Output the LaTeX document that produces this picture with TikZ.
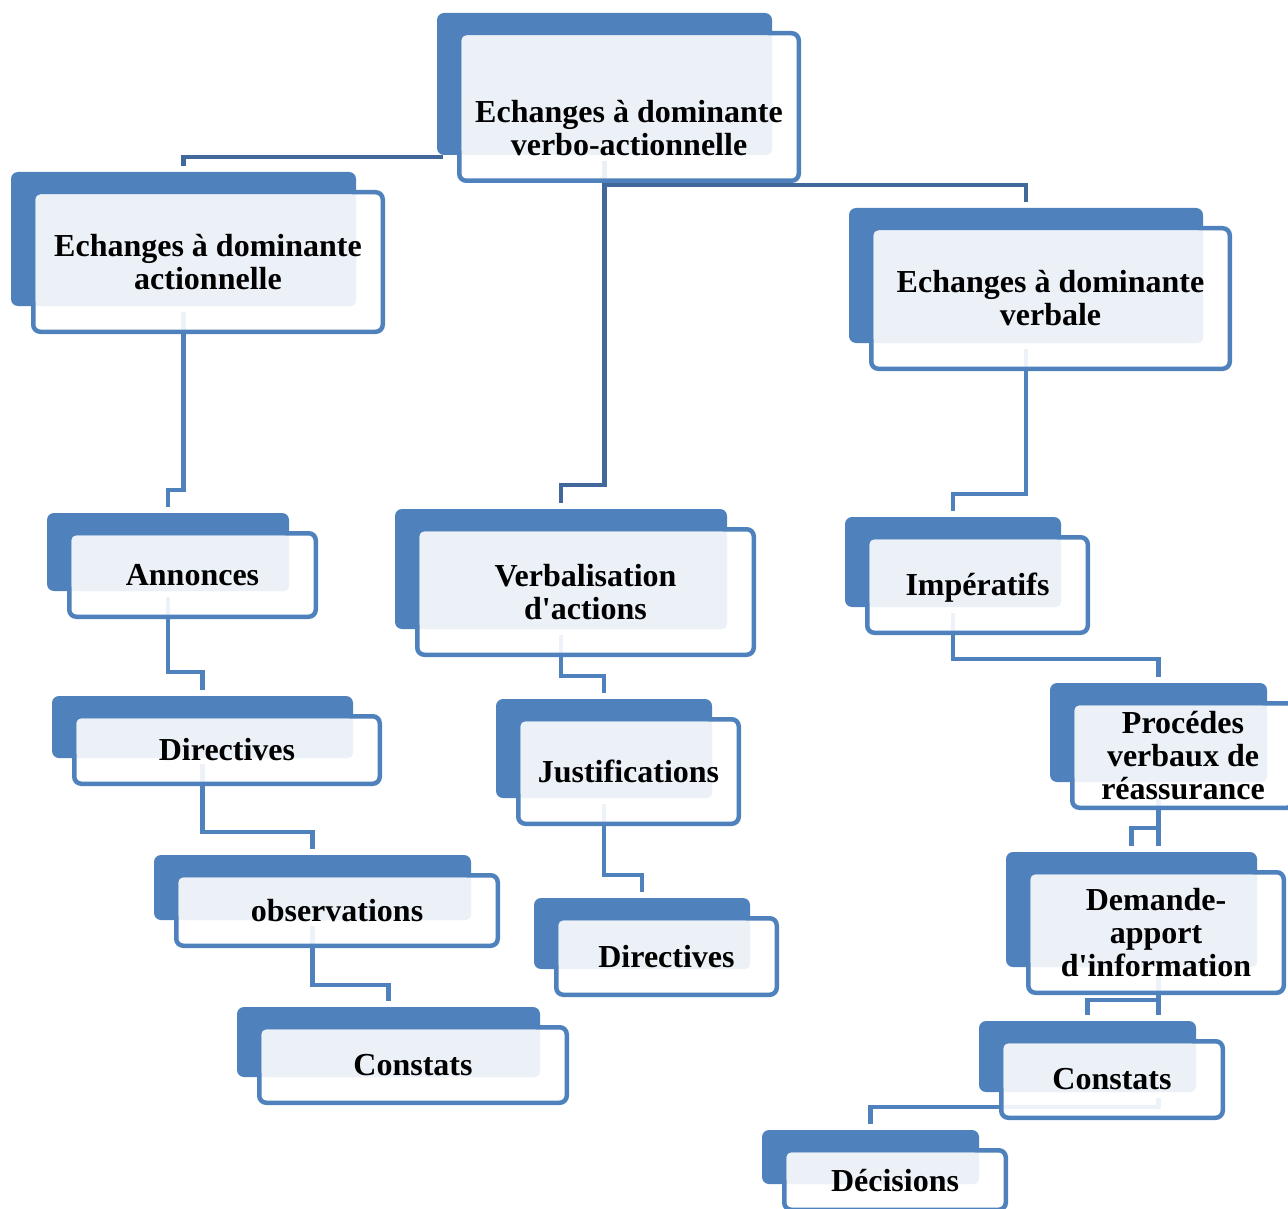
\documentclass[tikz,border=0pt]{standalone}
\usepackage{fontspec}
\setmainfont{Liberation Serif}[Ligatures=TeXOff]
\definecolor{blk}{RGB}{79,129,189}
\definecolor{lite}{RGB}{236,241,248}
\definecolor{dkc}{RGB}{66,104,155}
\pgfdeclarelayer{backl}
\pgfdeclarelayer{connl}
\pgfsetlayers{backl,connl,main}
\tikzset{
 backbox/.style={fill=blk, rounded corners=7pt, inner sep=0pt, outer sep=0pt},
 frontbox/.style={draw=blk, line width=4.5pt, fill=white, fill opacity=0.9, rounded corners=7pt},
 litebox/.style={fill=lite, rounded corners=5pt},
 lbl/.style={align=center, font=\fontsize{32}{33}\selectfont\bfseries, inner sep=0pt},
 conn/.style={draw=blk, line width=4.5pt},
 dconn/.style={draw=dkc, line width=4.5pt},
}
% #1 text shift, #2 name, #3 x1, #4 y1, #5 x2, #6 y2 (back box, pixels), #7 text
\newcommand\blk[7][0]{%
 \begin{pgfonlayer}{backl}
 \node[backbox, minimum width={(#5-#3)*1pt}, minimum height={(#6-#4)*1pt}] (#2b) at ({(#3+#5)/2},{(#4+#6)/2}) {};
 \end{pgfonlayer}
 \path[frontbox] ({#3+22.25},{#4+20.25}) rectangle ({#5+26.75},{#6+25.75});
 \fill[litebox] ({#3+24.5},{#4+22.5}) rectangle (#5,#6);
 \node[lbl] (#2) at ({(#3+#5)/2+24.5},{(#4+#6)/2+23+(#1)}) {#7};
}
\newcommand\jog[4][conn]{\draw[#1] ([yshift=-6pt]#2b.south) -- (#2b.south |- 0,#4) -| ([yshift=6pt]#3b.north);}
\begin{document}
\begin{tikzpicture}[x=1pt,y=-1pt]
\useasboundingbox (0,0) rectangle (1288,1209);
\blk[21]{T}{437}{13}{772}{155}{Echanges à dominante\\verbo-actionnelle}
\blk{A}{11}{172}{356}{306}{Echanges à dominante\\actionnelle}
\blk{V}{849}{208}{1203}{343}{Echanges à dominante\\verbale}
\blk{An}{47}{513}{289}{591}{Annonces}
\blk{Da}{52}{696}{353}{758}{Directives}
\blk{O}{154}{855}{471}{920}{observations}
\blk{Ca}{237}{1007}{540}{1077}{Constats}
\blk{VA}{395}{509}{727}{629}{Verbalisation\\d'actions}
\blk{J}{496}{699}{712}{798}{Justifications}
\blk{Db}{534}{898}{750}{969}{Directives}
\blk[3]{I}{845}{517}{1061}{607}{Impératifs}
\blk{P}{1050}{683}{1267}{782}{Procédes\\verbaux de\\réassurance}
\blk{DA}{1006}{852}{1257}{967}{Demande-\\apport\\d'information}
\blk{Cb}{979}{1021}{1196}{1092}{Constats}
\blk[1]{De}{762}{1130}{979}{1184}{Décisions}
\begin{pgfonlayer}{connl}
\draw[dconn] ([xshift=6pt,yshift=-2pt]Tb.south west) -| ([yshift=6pt]Ab.north);
\jog[dconn]{T}{VA}{485}
\jog[dconn]{T}{V}{185}
\jog{A}{An}{490}
\jog{An}{Da}{672}
\jog{Da}{O}{832}
\jog{O}{Ca}{985}
\jog{VA}{J}{676}
\jog{J}{Db}{875}
\jog{V}{I}{494}
\jog{I}{P}{659}
\jog{P}{DA}{828}
\draw[conn] ([yshift=-6pt]Pb.south) -- ([yshift=6pt]Pb.south |- DAb.north);
\draw[conn] ([xshift=27pt,yshift=-6pt]DAb.south) -- ([xshift=27pt]DAb.south |- 0,1000) -| ([yshift=6pt]Cbb.north);
\draw[conn] ([xshift=27pt]DAb.south |- 0,1000) -- ([xshift=27pt,yshift=6pt]DAb.south |- Cbb.north);
\draw[conn] ([xshift=71pt,yshift=-6pt]Cbb.south) -- ([xshift=71pt]Cbb.south |- 0,1107) -| ([yshift=6pt]Deb.north);
\end{pgfonlayer}
\end{tikzpicture}
\end{document}
